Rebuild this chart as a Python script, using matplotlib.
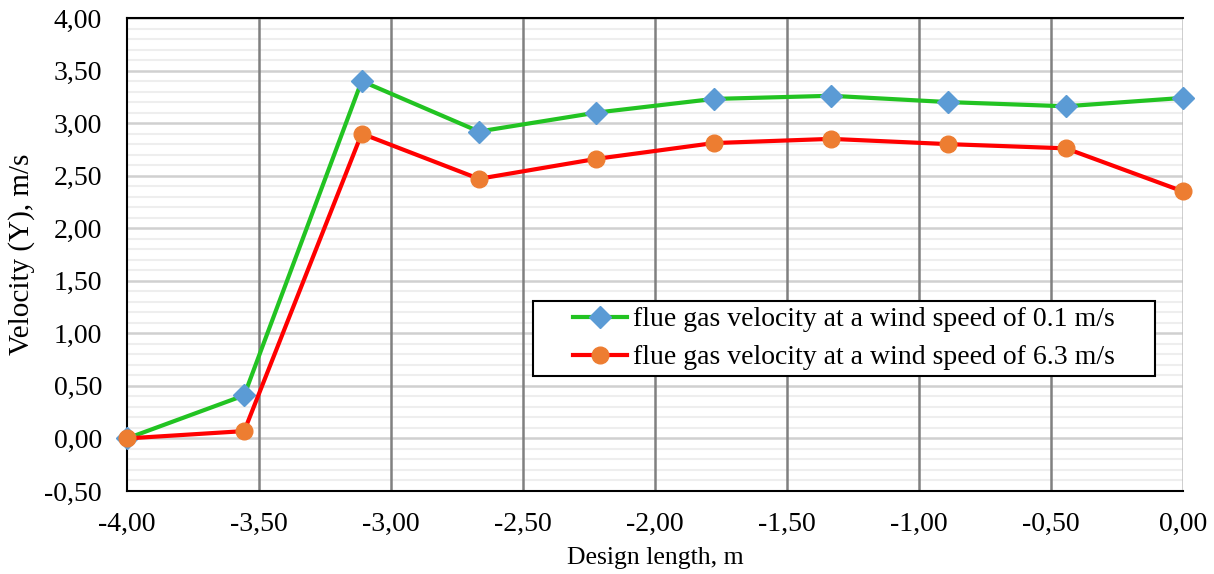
import numpy as np
import matplotlib
matplotlib.use("Agg")
import matplotlib.pyplot as plt
from matplotlib.ticker import MultipleLocator, FuncFormatter
from matplotlib.patches import Rectangle

# Design length positions, m
x_len = [-4.000, -3.556, -3.111, -2.667, -2.222, -1.778, -1.333, -0.889, -0.444, 0.000]

# Flue gas velocity, m/s
v_wind_01 = [0.00, 0.41, 3.40, 2.92, 3.10, 3.23, 3.26, 3.20, 3.16, 3.24]
v_wind_63 = [0.00, 0.07, 2.90, 2.47, 2.66, 2.81, 2.85, 2.80, 2.76, 2.35]

label_01 = "flue gas velocity at a wind speed of 0.1 m/s"
label_63 = "flue gas velocity at a wind speed of 6.3 m/s"

plt.rcParams['font.family'] = ['Liberation Serif', 'DejaVu Serif']

fig = plt.figure(figsize=(12.14, 5.74), dpi=100)
ax = fig.add_axes([127 / 1214, 1 - 491 / 574, (1183 - 127) / 1214, (491 - 18) / 574])

ax.plot(x_len, v_wind_01, color='#22c322', lw=3, marker='D', ms=11,
        mfc='#5b9bd5', mec='#5b9bd5', label=label_01, zorder=4, clip_on=False)
ax.plot(x_len, v_wind_63, color='#ff0000', lw=3, marker='o', ms=12,
        mfc='#ed7d31', mec='#ed7d31', label=label_63, zorder=4, clip_on=False)

ax.set_xlim(-4, 0)
ax.set_ylim(-0.5, 4.0)
ax.xaxis.set_major_locator(MultipleLocator(0.5))
ax.yaxis.set_major_locator(MultipleLocator(0.5))
ax.yaxis.set_minor_locator(MultipleLocator(0.1))

comma = FuncFormatter(lambda v, p: "{:.2f}".format(v).replace('.', ','))
ax.xaxis.set_major_formatter(comma)
ax.yaxis.set_major_formatter(comma)

# horizontal grid: light major, very light minor
ax.grid(axis='y', which='minor', color='#eeeeee', lw=1.5, zorder=0)
ax.grid(axis='y', which='major', color='#d0d0d0', lw=1.8, zorder=0)
ax.set_axisbelow(True)

# vertical grid drawn on top of horizontals, last one (x=0) light
xt = [t for t in ax.get_xticks() if -4 < t <= 0]
vcol = ['#808080' if t < 0 else '#c0c0c0' for t in xt]
ax.vlines(xt, -0.5, 4.0, colors=vcol, lw=1.8, zorder=1.5)

for side in ['top', 'left', 'bottom']:
    ax.spines[side].set_color('black')
    ax.spines[side].set_linewidth(1.5)
ax.spines['right'].set_visible(False)

ax.tick_params(which='both', length=0, labelsize=20)
ax.tick_params(axis='x', pad=15)
ax.tick_params(axis='y', pad=18)
ax.set_xlabel("Design length, m", fontsize=18.5, labelpad=7)
ax.set_ylabel("Velocity (Y), m/s", fontsize=21, labelpad=7)

leg = ax.legend(loc='upper left', bbox_to_anchor=((573 - 127) / 1056, (491 - 307) / 473),
                fontsize=20, frameon=False, borderpad=0.0, borderaxespad=0.0,
                handlelength=1.95, handletextpad=0.2, labelspacing=0.45)
leg.set_zorder(6)

# legend frame with wide side padding, like the source chart
fig.canvas.draw()
bb = leg.get_window_extent().transformed(fig.transFigure.inverted())
px, py = 40 / 1214, 6 / 574
frame = Rectangle((bb.x0 - px, bb.y0 - py), bb.width + 2 * px, bb.height + 2 * py,
                  transform=fig.transFigure, facecolor='white', edgecolor='black',
                  lw=1.5, zorder=5)
ax.add_patch(frame)

fig.savefig("out.png", dpi=100)
